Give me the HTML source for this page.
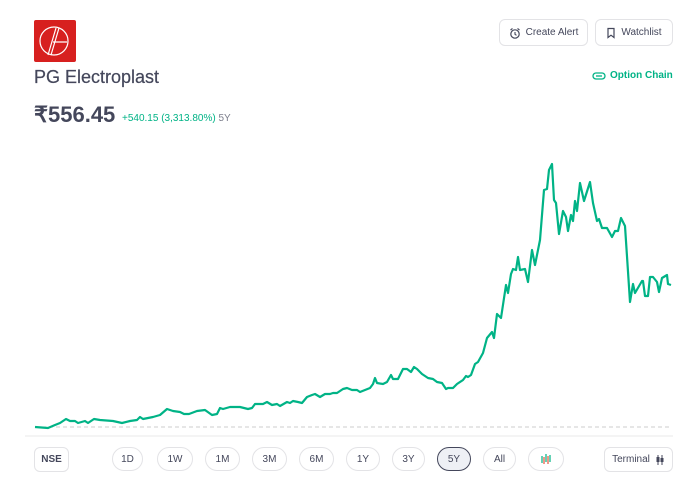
<!DOCTYPE html>
<html><head><style>
body{margin:0;width:698px;height:490px;background:#fff;font-family:"Liberation Sans",sans-serif;position:relative;overflow:hidden;color:#44475b}
.a{position:absolute}
.btn{position:absolute;border:1px solid #e3e3e6;border-radius:6px;font-size:10px;color:#44475b;display:flex;align-items:center;justify-content:center;box-sizing:border-box;background:#fff;gap:5px}
.pill{position:absolute;top:447px;height:24px;border:1px solid #e3e3e6;border-radius:12px;font-size:10px;color:#44475b;display:flex;align-items:center;justify-content:center;box-sizing:border-box}
</style></head><body>
<div class="a" style="left:34px;top:20px;width:42px;height:42px;background:#d7201f;border-radius:2px">
<svg width="42" height="42"><circle cx="20" cy="21" r="14" fill="none" stroke="#fff" stroke-width="1.2"/><path d="M22 8 L14 35 M25 8 L17 35 M19 22 H33" stroke="#fff" stroke-width="1.2" fill="none"/></svg></div>
<div class="a" style="left:34px;top:67px;font-size:18px;color:#44475b;-webkit-text-stroke:0.2px #44475b">PG Electroplast</div>
<div class="a" style="left:34px;top:102px;font-size:22px;font-weight:bold;color:#44475b">₹556.45</div>
<div class="a" style="left:122px;top:113px;font-size:10px;color:#00b386">+540.15 (3,313.80%) <span style="color:#7c7e8c">5Y</span></div>
<div class="btn" style="left:499px;top:19px;width:89px;height:27px"><svg width="12" height="12"><circle cx="6" cy="7" r="4.2" fill="none" stroke="#44475b" stroke-width="1.2"/><path d="M6 5v2.3l1.5 1M1.5 3l2-1.5M10.5 3l-2-1.5" stroke="#44475b" stroke-width="1.1" fill="none"/></svg>Create Alert</div>
<div class="btn" style="left:595px;top:19px;width:78px;height:27px"><svg width="10" height="12"><path d="M2 1.5h6v9l-3-2.3-3 2.3z" fill="none" stroke="#44475b" stroke-width="1.2"/></svg>Watchlist</div>
<div class="a" style="left:592px;top:70px;font-size:10px;color:#00b386;font-weight:bold;display:flex;align-items:center;gap:4px"><svg width="14" height="8"><rect x="1" y="1" width="12" height="6" rx="3" fill="none" stroke="#00b386" stroke-width="1.3"/><line x1="4" y1="4" x2="10" y2="4" stroke="#00b386" stroke-width="1.3"/></svg>Option Chain</div>
<svg class="a" style="left:0;top:0" width="698" height="490">
<line x1="35" y1="427" x2="672" y2="427" stroke="#ccc" stroke-dasharray="4,3" stroke-width="1"/>
<line x1="25" y1="436" x2="673" y2="436" stroke="#e8e8ea" stroke-width="1"/>
<polyline fill="none" stroke="#00b386" stroke-width="2.2" stroke-linejoin="round" points="35,427 48,428 55,425 60,423 66,419 70,421 75,421 78,423 85,421 88,423 94,419 100,420 113,421 122,423 130,421 137,420 140,417 143,419 153,417 160,415 167,409 173,411 180,412 184,414 189,414 197,411 205,410 212,415 217,414 220,408 223,409 230,407 240,407 248,409 252,408 255,404 263,404 267,402 272,405 277,404 280,406 287,402 290,403 293,401 298,402 302,403 307,397 312,395 315,394 320,397 325,394 330,394 333,393 337,393 343,389 347,388 352,390 357,390 360,392 365,390 370,388 373,384 375,378 377,383 383,384 387,382 391,375 393,379 398,379 403,369 407,369 411,372 414,367 417,369 422,374 428,378 433,379 437,382 442,383 446,389 448,388 453,388 457,384 463,380 466,376 468,377 471,375 475,364 478,362 483,353 487,338 492,332 494,338 497,314 501,318 506,285 508,293 511,274 513,269 516,270 518,257 520,270 525,269 528,282 532,250 535,265 540,240 544,190 547,189 549,170 552,164 554,200 556,203 559,234 563,211 566,217 568,231 571,215 573,221 575,201 577,211 580,183 584,201 590,182 593,203 597,221 599,219 602,228 607,228 612,237 615,231 618,231 621,218 625,226 630,302 633,284 635,293 642,281 643,281 645,296 648,296 650,277 653,277 657,282 659,292 662,278 667,275 668,284 671,285"/>
</svg>
<div class="btn" style="left:34px;top:447px;width:35px;height:25px;font-weight:bold">NSE</div>
<div class="pill" style="left:112px;width:31px">1D</div>
<div class="pill" style="left:157px;width:36px">1W</div>
<div class="pill" style="left:205px;width:35px">1M</div>
<div class="pill" style="left:252px;width:35px">3M</div>
<div class="pill" style="left:299px;width:35px">6M</div>
<div class="pill" style="left:346px;width:34px">1Y</div>
<div class="pill" style="left:392px;width:33px">3Y</div>
<div class="pill" style="left:437px;width:34px;background:#eef0f5;border:1.5px solid #44475b">5Y</div>
<div class="pill" style="left:483px;width:33px">All</div>
<div class="pill" style="left:528px;width:36px"><svg width="12" height="12"><path d="M2 3v7M6 1v8M10 2v7" stroke="#00b386" stroke-width="1.2"/><path d="M4 4v7M8 3v8" stroke="#e5533d" stroke-width="1.2"/></svg></div>
<div class="btn" style="left:604px;top:447px;width:69px;height:25px">Terminal<svg width="10" height="12"><path d="M3 1v10M7 1v10" stroke="#44475b" stroke-width="1"/><rect x="1.5" y="3" width="3" height="5" fill="#44475b"/><rect x="5.5" y="4" width="3" height="4" fill="#44475b"/></svg></div>
</body></html>
